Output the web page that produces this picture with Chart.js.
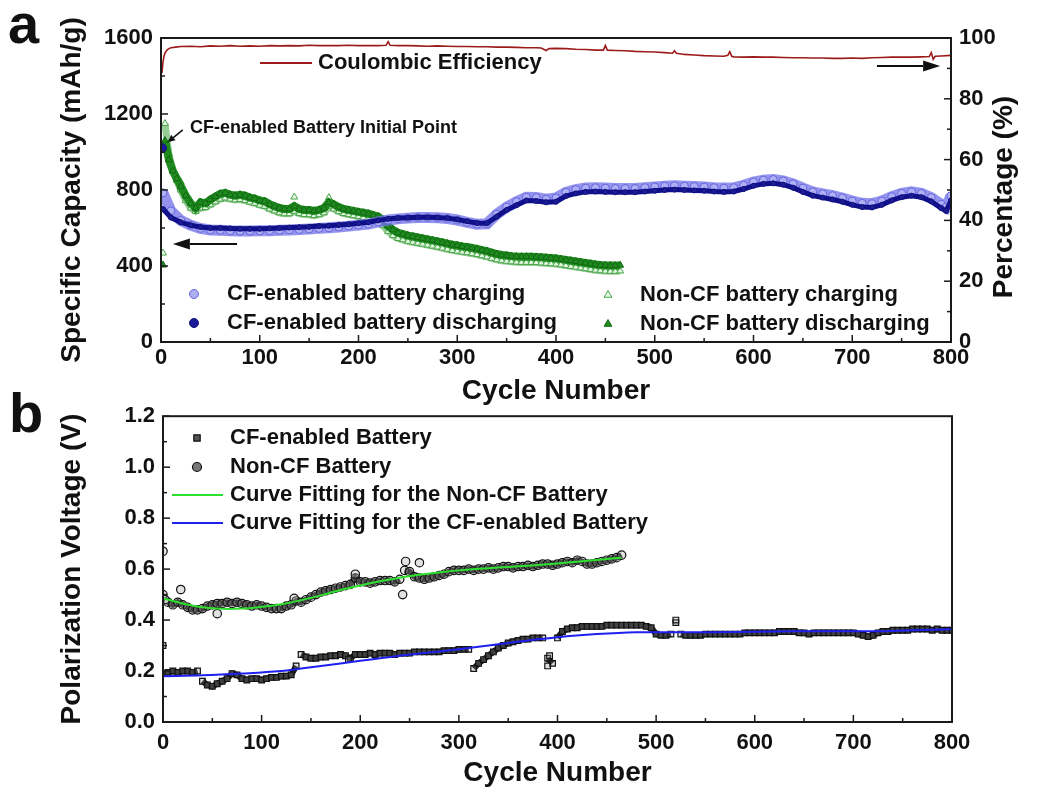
<!DOCTYPE html>
<html>
<head>
<meta charset="utf-8">
<title>Cycling performance</title>
<script src="https://cdn.jsdelivr.net/npm/chart.js@4.4.1/dist/chart.umd.min.js"></script>
<style>
  body { margin: 0; background: #fff; }
  #wrap { position: relative; width: 1037px; height: 788px; overflow: hidden; background: #fff; }
  canvas { position: absolute; left: 0; }
  #chartA { top: 0; }
  #chartB { top: 395px; }
  .tag { position: absolute; font: bold 56px "Liberation Sans", Arial, sans-serif; line-height: 1; color: #111; }
</style>
</head>
<body>
<div id="wrap">
  <canvas id="chartA" width="1037" height="410"></canvas>
  <canvas id="chartB" width="1037" height="393"></canvas>
  <div class="tag" style="left:8px; top:-4px;">a</div>
  <div class="tag" style="left:9px; top:385px;">b</div>
</div>
<script>
// ---- panel a : capacity / coulombic efficiency ----
const ceCycles = [1, 2, 3, 4, 6, 8, 10, 15, 20, 30, 40, 50, 60, 70, 80, 90, 100, 110, 120, 130, 140, 150, 160, 170, 180, 190, 200, 210, 220, 228, 230, 232, 240, 250, 260, 270, 280, 290, 300, 310, 320, 330, 340, 350, 360, 370, 380, 385, 390, 393, 400, 410, 420, 430, 440, 448, 450, 452, 460, 470, 480, 490, 500, 510, 518, 520, 522, 530, 540, 550, 560, 570, 574, 576, 578, 580, 590, 600, 610, 620, 630, 640, 650, 660, 670, 680, 690, 700, 710, 720, 730, 740, 750, 760, 770, 778, 780, 782, 784, 790, 800];
const ceValues = [88.5, 92, 94, 95, 96, 96.5, 96.8, 97, 97.2, 97.3, 97.1, 97.4, 97.3, 97.5, 97.3, 97.4, 97.3, 97.5, 97.4, 97.5, 97.4, 97.6, 97.5, 97.5, 97.5, 97.6, 97.5, 97.5, 97.5, 97.6, 98.8, 97.6, 97.5, 97.5, 97.4, 97.3, 97.4, 97.3, 97.2, 97.2, 97.1, 97.1, 97.0, 97.0, 96.9, 96.8, 96.8, 96.7, 95.9, 96.5, 96.6, 96.5, 96.3, 96.2, 96.0, 96.0, 97.5, 96.0, 95.9, 95.8, 95.6, 95.5, 95.4, 95.2, 95.0, 95.8, 95.0, 94.6, 94.4, 94.2, 94.1, 94.0, 94.3, 95.5, 94.0, 93.8, 93.7, 93.8, 93.7, 93.7, 93.6, 93.5, 93.5, 93.4, 93.4, 93.3, 93.3, 93.4, 93.3, 93.5, 93.6, 93.7, 93.7, 93.7, 93.8, 93.9, 95.2, 93.0, 94.0, 94.1, 94.3];

const cfFirstCycle = [1];
const cfFirstValue = [1020];
const cfCycles = [2, 10, 20, 30, 40, 50, 60, 70, 80, 90, 100, 110, 120, 130, 140, 150, 160, 170, 180, 190, 200, 210, 220, 230, 240, 250, 260, 270, 280, 290, 300, 310, 320, 330, 340, 350, 360, 370, 380, 390, 400, 410, 420, 430, 440, 450, 460, 470, 480, 490, 500, 510, 520, 530, 540, 550, 560, 570, 580, 590, 600, 610, 620, 630, 640, 650, 660, 670, 680, 690, 700, 710, 720, 730, 740, 750, 760, 770, 780, 790, 795, 800];
const cfDischarge = [700, 655, 630, 615, 605, 600, 600, 598, 596, 596, 596, 598, 600, 602, 604, 606, 610, 612, 616, 620, 625, 630, 640, 648, 652, 654, 656, 656, 655, 652, 645, 635, 626, 625, 660, 695, 720, 745, 742, 735, 738, 768, 782, 790, 792, 790, 788, 788, 788, 792, 796, 800, 802, 800, 798, 796, 792, 790, 792, 805, 822, 832, 835, 828, 812, 790, 770, 760, 750, 738, 722, 710, 708, 722, 745, 762, 770, 762, 740, 705, 690, 745];
const cfCharge = [785, 690, 640, 615, 598, 590, 588, 585, 584, 584, 585, 586, 588, 590, 592, 595, 598, 601, 605, 610, 615, 621, 632, 642, 648, 652, 655, 655, 654, 650, 642, 630, 620, 622, 672, 710, 738, 762, 760, 752, 758, 788, 802, 810, 812, 810, 808, 808, 808, 812, 816, 820, 822, 820, 818, 816, 812, 810, 812, 825, 842, 852, 855, 848, 832, 810, 790, 780, 770, 758, 742, 730, 728, 742, 765, 782, 790, 782, 760, 725, 710, 770];

const ncCycles = [4, 8, 12, 16, 20, 25, 30, 35, 40, 45, 50, 55, 60, 65, 70, 75, 80, 85, 90, 95, 100, 105, 110, 115, 120, 125, 130, 135, 140, 145, 150, 155, 160, 165, 170, 175, 180, 185, 190, 195, 200, 205, 210, 215, 220, 225, 230, 235, 240, 245, 250, 255, 260, 265, 270, 275, 280, 285, 290, 295, 300, 305, 310, 315, 320, 325, 330, 335, 340, 345, 350, 355, 360, 365, 370, 375, 380, 385, 390, 395, 400, 405, 410, 415, 420, 425, 430, 435, 440, 445, 450, 455, 460, 465];
const ncDischarge = [1060, 960, 900, 860, 820, 770, 730, 705, 735, 730, 750, 765, 780, 785, 775, 770, 775, 770, 760, 755, 745, 740, 725, 715, 705, 700, 700, 715, 700, 695, 695, 690, 695, 705, 735, 725, 710, 700, 695, 690, 685, 680, 675, 668, 660, 640, 610, 590, 575, 568, 560, 555, 550, 545, 540, 535, 530, 524, 518, 512, 508, 503, 500, 495, 490, 484, 478, 470, 463, 458, 455, 452, 450, 449, 449, 449, 448, 446, 444, 442, 440, 436, 432, 428, 424, 420, 416, 412, 408, 405, 403, 402, 402, 404];
const ncCharge = [1150, 990, 905, 850, 800, 745, 705, 688, 705, 708, 722, 738, 752, 758, 752, 748, 750, 745, 736, 730, 720, 714, 700, 690, 680, 675, 675, 688, 676, 671, 670, 665, 670, 680, 712, 700, 686, 676, 670, 665, 660, 655, 650, 643, 635, 612, 582, 560, 545, 538, 530, 525, 520, 515, 510, 505, 500, 494, 488, 482, 478, 473, 470, 465, 460, 454, 448, 440, 433, 428, 425, 422, 420, 419, 419, 419, 418, 416, 414, 412, 410, 406, 402, 398, 394, 390, 386, 382, 378, 375, 373, 372, 372, 374];
// stray single cycles off the main band
const ncChargeOddCycles = [2, 20, 135, 170];
const ncChargeOdd = [468, 842, 763, 760];
const ncDischargeOddCycles = [2, 20];
const ncDischargeOdd = [405, 812];

// ---- panel b : polarization voltage ----
const cfPolCycles = [0, 5, 10, 15, 20, 25, 30, 35, 40, 45, 50, 55, 60, 65, 70, 75, 80, 85, 90, 95, 100, 105, 110, 115, 120, 125, 130, 135, 140, 145, 150, 155, 160, 165, 170, 175, 180, 185, 190, 195, 200, 205, 210, 215, 220, 225, 230, 235, 240, 245, 250, 255, 260, 265, 270, 275, 280, 285, 290, 295, 300, 305, 310, 315, 320, 325, 330, 335, 340, 345, 350, 355, 360, 365, 370, 375, 380, 385, 390, 395, 400, 405, 410, 415, 420, 425, 430, 435, 440, 445, 450, 455, 460, 465, 470, 475, 480, 485, 490, 495, 500, 505, 510, 515, 520, 525, 530, 535, 540, 545, 550, 555, 560, 565, 570, 575, 580, 585, 590, 595, 600, 605, 610, 615, 620, 625, 630, 635, 640, 645, 650, 655, 660, 665, 670, 675, 680, 685, 690, 695, 700, 705, 710, 715, 720, 725, 730, 735, 740, 745, 750, 755, 760, 765, 770, 775, 780, 785, 790, 795, 800];
const cfPol = [0.19, 0.195, 0.20, 0.195, 0.20, 0.20, 0.195, 0.20, 0.16, 0.145, 0.14, 0.15, 0.16, 0.17, 0.19, 0.185, 0.17, 0.165, 0.17, 0.17, 0.165, 0.17, 0.175, 0.175, 0.18, 0.18, 0.185, 0.22, 0.265, 0.255, 0.25, 0.25, 0.255, 0.255, 0.26, 0.26, 0.265, 0.26, 0.25, 0.265, 0.265, 0.265, 0.27, 0.265, 0.27, 0.27, 0.27, 0.265, 0.27, 0.27, 0.27, 0.275, 0.275, 0.275, 0.275, 0.275, 0.275, 0.28, 0.28, 0.28, 0.285, 0.285, 0.285, 0.21, 0.23, 0.245, 0.26, 0.275, 0.29, 0.30, 0.31, 0.315, 0.32, 0.325, 0.325, 0.33, 0.33, 0.33, 0.25, 0.23, 0.33, 0.355, 0.365, 0.37, 0.37, 0.375, 0.375, 0.375, 0.375, 0.375, 0.38, 0.38, 0.38, 0.38, 0.38, 0.38, 0.38, 0.38, 0.375, 0.37, 0.345, 0.34, 0.34, 0.345, 0.39, 0.345, 0.34, 0.34, 0.34, 0.34, 0.345, 0.345, 0.345, 0.345, 0.345, 0.345, 0.345, 0.345, 0.35, 0.35, 0.35, 0.35, 0.35, 0.35, 0.35, 0.355, 0.355, 0.355, 0.355, 0.35, 0.35, 0.345, 0.35, 0.35, 0.35, 0.35, 0.35, 0.35, 0.35, 0.35, 0.35, 0.345, 0.34, 0.335, 0.34, 0.35, 0.355, 0.355, 0.36, 0.36, 0.36, 0.36, 0.365, 0.365, 0.365, 0.365, 0.36, 0.365, 0.36, 0.36, 0.36];
const cfPolOddCycles = [0, 188, 390, 392, 520];
const cfPolOdd = [0.30, 0.245, 0.22, 0.26, 0.40];

const ncPolCycles = [0, 5, 10, 15, 20, 25, 30, 35, 40, 45, 50, 55, 60, 65, 70, 75, 80, 85, 90, 95, 100, 105, 110, 115, 120, 125, 130, 135, 140, 145, 150, 155, 160, 165, 170, 175, 180, 185, 190, 195, 200, 205, 210, 215, 220, 225, 230, 235, 240, 245, 250, 255, 260, 265, 270, 275, 280, 285, 290, 295, 300, 305, 310, 315, 320, 325, 330, 335, 340, 345, 350, 355, 360, 365, 370, 375, 380, 385, 390, 395, 400, 405, 410, 415, 420, 425, 430, 435, 440, 445, 450, 455, 460, 465];
const ncPol = [0.50, 0.47, 0.46, 0.47, 0.46, 0.45, 0.44, 0.44, 0.445, 0.455, 0.46, 0.465, 0.465, 0.47, 0.465, 0.47, 0.465, 0.46, 0.455, 0.46, 0.455, 0.45, 0.445, 0.445, 0.445, 0.455, 0.46, 0.475, 0.47, 0.48, 0.49, 0.50, 0.51, 0.515, 0.52, 0.525, 0.53, 0.535, 0.54, 0.565, 0.55, 0.55, 0.545, 0.55, 0.555, 0.555, 0.555, 0.55, 0.56, 0.595, 0.59, 0.57, 0.565, 0.56, 0.565, 0.57, 0.575, 0.58, 0.59, 0.595, 0.595, 0.595, 0.60, 0.595, 0.60, 0.60, 0.605, 0.60, 0.605, 0.61, 0.61, 0.605, 0.61, 0.61, 0.615, 0.61, 0.615, 0.62, 0.62, 0.615, 0.62, 0.625, 0.63, 0.625, 0.635, 0.63, 0.62, 0.62, 0.625, 0.63, 0.635, 0.64, 0.645, 0.655];
const ncPolOddCycles = [0, 2, 18, 55, 133, 195, 243, 246, 260];
const ncPolOdd = [0.67, 0.48, 0.52, 0.425, 0.485, 0.58, 0.50, 0.63, 0.625];

const ncFitCycles = [0, 20, 40, 60, 80, 100, 120, 140, 160, 180, 200, 220, 240, 260, 280, 300, 320, 340, 360, 380, 400, 420, 440, 465];
const ncFit = [0.485, 0.465, 0.45, 0.444, 0.445, 0.452, 0.462, 0.478, 0.497, 0.518, 0.536, 0.552, 0.566, 0.578, 0.587, 0.595, 0.601, 0.606, 0.611, 0.616, 0.622, 0.629, 0.636, 0.645];
const cfFitCycles = [0, 40, 80, 120, 140, 160, 200, 240, 280, 320, 360, 400, 440, 480, 520, 560, 600, 640, 680, 720, 760, 800];
const cfFit = [0.18, 0.183, 0.19, 0.2, 0.21, 0.22, 0.24, 0.26, 0.277, 0.295, 0.315, 0.333, 0.345, 0.352, 0.352, 0.352, 0.354, 0.356, 0.356, 0.356, 0.36, 0.364];

// ---- shared look ----
const family = "'Liberation Sans', Arial, Helvetica, sans-serif";
Chart.defaults.font.family = family;
Chart.defaults.color = '#111';
const tickFont = { size: 22, weight: 'bold' };
const titleFont = { size: 28, weight: 'bold', lineHeight: 1 };

function pairs(xs, ys) {
  return xs.map((x, i) => ({ x: x, y: ys[i] }));
}

// cut a measured series into pieces wherever the value jumps,
// so the dense band is not joined across the jump
function runs(points, limit) {
  const out = [[points[0]]];
  for (let i = 1; i < points.length; i++) {
    if (Math.abs(points[i].y - points[i - 1].y) > limit) out.push([]);
    out[out.length - 1].push(points[i]);
  }
  return out;
}

function bandPieces(points, limit, color, order) {
  return runs(points, limit).map(run => ({
    label: '', data: run, showLine: true, borderColor: color, borderWidth: 6, pointRadius: 0, order: order
  }));
}

// box around the plot with inward major/minor ticks
const frameTicks = {
  id: 'frameTicks',
  afterDatasetsDraw(chart, args, opts) {
    const ctx = chart.ctx, a = chart.chartArea;
    ctx.save();
    ctx.strokeStyle = '#1a1a1a';
    ctx.lineWidth = 2;
    ctx.strokeRect(a.left, a.top, a.right - a.left, a.bottom - a.top);
    ctx.lineWidth = 1.5;
    opts.marks.forEach(m => {
      const s = chart.scales[m.axis];
      const n = Math.round((s.max - s.min) / m.minor);
      for (let i = 0; i <= n; i++) {
        const p = s.getPixelForValue(s.min + i * m.minor);
        const len = i % 2 === 0 ? 7 : 4;
        ctx.beginPath();
        if (m.side === 'left') { ctx.moveTo(a.left, p); ctx.lineTo(a.left + len, p); }
        else if (m.side === 'right') { ctx.moveTo(a.right, p); ctx.lineTo(a.right - len, p); }
        else { ctx.moveTo(p, a.bottom); ctx.lineTo(p, a.bottom - len); }
        ctx.stroke();
      }
    });
    ctx.restore();
  }
};

// legend entries placed inside the plot
const keyBox = {
  id: 'keyBox',
  afterDraw(chart, args, opts) {
    const ctx = chart.ctx;
    ctx.save();
    ctx.font = 'bold ' + opts.size + 'px ' + family;
    ctx.textBaseline = 'middle';
    ctx.textAlign = 'left';
    opts.items.forEach(it => {
      const ds = chart.data.datasets[it.index];
      if (it.line) {
        ctx.strokeStyle = ds.borderColor;
        ctx.lineWidth = 2;
        ctx.beginPath();
        ctx.moveTo(it.line[0], it.y);
        ctx.lineTo(it.line[1], it.y);
        ctx.stroke();
      } else {
        ctx.fillStyle = typeof it.swatch === 'string' ? it.swatch : ds.pointBackgroundColor;
        ctx.strokeStyle = ds.pointBorderColor;
        ctx.lineWidth = ds.pointBorderWidth;
        Chart.helpers.drawPoint(ctx, { pointStyle: ds.pointStyle, radius: 4.5, borderWidth: ds.pointBorderWidth, rotation: 0 }, it.mark, it.y);
      }
      ctx.fillStyle = '#111';
      ctx.fillText(ds.label, it.text, it.y);
    });
    ctx.restore();
  }
};

// arrows, notes and the right-hand axis title
const notes = {
  id: 'notes',
  afterDraw(chart, args, opts) {
    const ctx = chart.ctx, xs = chart.scales.x;
    ctx.save();
    ctx.fillStyle = '#111';
    ctx.strokeStyle = '#111';
    (opts.arrows || []).forEach(ar => {
      const ys = chart.scales[ar.axis];
      const x0 = xs.getPixelForValue(ar.from[0]), y0 = ys.getPixelForValue(ar.from[1]);
      const x1 = xs.getPixelForValue(ar.to[0]), y1 = ys.getPixelForValue(ar.to[1]);
      const ang = Math.atan2(y1 - y0, x1 - x0);
      const c = Math.cos(ang), s = Math.sin(ang);
      const bx = x1 - c * ar.head, by = y1 - s * ar.head;
      ctx.lineWidth = ar.width;
      ctx.beginPath();
      ctx.moveTo(x0, y0);
      ctx.lineTo(bx, by);
      ctx.stroke();
      ctx.beginPath();
      ctx.moveTo(x1, y1);
      ctx.lineTo(bx + s * ar.half, by - c * ar.half);
      ctx.lineTo(bx - s * ar.half, by + c * ar.half);
      ctx.closePath();
      ctx.fill();
    });
    (opts.texts || []).forEach(t => {
      ctx.font = 'bold ' + t.size + 'px ' + family;
      ctx.textBaseline = 'middle';
      ctx.textAlign = 'left';
      ctx.fillText(t.text, xs.getPixelForValue(t.at[0]), chart.scales[t.axis].getPixelForValue(t.at[1]));
    });
    if (opts.sideTitle) {
      const st = opts.sideTitle;
      ctx.font = 'bold 28px ' + family;
      ctx.textAlign = 'center';
      ctx.textBaseline = 'middle';
      ctx.translate(st.x, st.y);
      ctx.rotate(-Math.PI / 2);
      ctx.fillText(st.text, 0, 0);
    }
    ctx.restore();
  }
};

function xAxis(padBottom, tickPad, height) {
  return {
    type: 'linear', min: 0, max: 800,
    ticks: { stepSize: 100, font: tickFont, padding: tickPad, maxRotation: 0, autoSkip: false },
    grid: { display: false, drawTicks: false },
    border: { display: false },
    title: { display: true, text: 'Cycle Number', font: titleFont, padding: { top: 0, bottom: padBottom } },
    afterFit: s => { s.height = height; }
  };
}

// ---- chart a ----
new Chart(document.getElementById('chartA'), {
  type: 'scatter',
  data: {
    datasets: [
      { label: 'Coulombic Efficiency', data: pairs(ceCycles, ceValues), yAxisID: 'y1', showLine: true,
        borderColor: '#9c1c1c', borderWidth: 1.6, pointRadius: 0, order: 0 },
      { label: 'CF-enabled Battery Initial Point', data: pairs(cfFirstCycle, cfFirstValue), yAxisID: 'y',
        pointStyle: 'circle', pointRadius: 4.5, pointBackgroundColor: '#1b1b9a', pointBorderColor: '#14147a', pointBorderWidth: 1, order: 1 },
      { label: 'CF-enabled battery discharging', data: pairs(cfCycles, cfDischarge), yAxisID: 'y', showLine: true,
        borderColor: '#10108c', borderWidth: 5, pointStyle: 'circle', pointRadius: 2.5,
        pointBackgroundColor: '#1c1c98', pointBorderColor: '#10107a', pointBorderWidth: 1, order: 2 },
      { label: 'CF-enabled battery charging', data: pairs(cfCycles, cfCharge), yAxisID: 'y', showLine: true,
        borderColor: 'rgba(112,112,232,0.75)', borderWidth: 11, pointStyle: 'circle', pointRadius: 4,
        pointBackgroundColor: 'rgba(175,175,245,1)', pointBorderColor: 'rgba(100,100,220,1)', pointBorderWidth: 1, order: 3 },
      { label: 'Non-CF battery discharging', data: pairs(ncCycles, ncDischarge), yAxisID: 'y', showLine: true,
        borderColor: '#1d8a1d', borderWidth: 8, pointStyle: 'triangle', pointRadius: 4,
        pointBackgroundColor: '#1f8c1f', pointBorderColor: '#146814', pointBorderWidth: 1, order: 4 },
      { label: 'Non-CF battery charging', data: pairs(ncCycles, ncCharge), yAxisID: 'y', showLine: true,
        borderColor: 'rgba(80,170,80,0.6)', borderWidth: 7, pointStyle: 'triangle', pointRadius: 4,
        pointBackgroundColor: 'rgba(230,248,230,0.95)', pointBorderColor: '#48a548', pointBorderWidth: 1, order: 5 },
      { label: 'Non-CF battery discharging (stray)', data: pairs(ncDischargeOddCycles, ncDischargeOdd), yAxisID: 'y',
        pointStyle: 'triangle', pointRadius: 4, pointBackgroundColor: '#1f8c1f', pointBorderColor: '#146814', pointBorderWidth: 1, order: 6 },
      { label: 'Non-CF battery charging (stray)', data: pairs(ncChargeOddCycles, ncChargeOdd), yAxisID: 'y',
        pointStyle: 'triangle', pointRadius: 4, pointBackgroundColor: 'rgba(230,248,230,0.95)', pointBorderColor: '#48a548', pointBorderWidth: 1, order: 7 }
    ]
  },
  options: {
    responsive: false,
    animation: false,
    events: [],
    clip: 0,
    layout: { padding: { top: 38, right: 0, left: 0, bottom: 0 } },
    scales: {
      x: xAxis(5, 3, 68),
      y: {
        position: 'left', min: 0, max: 1600,
        ticks: { stepSize: 400, font: tickFont, padding: 8, callback: v => String(v) },
        grid: { display: false, drawTicks: false },
        border: { display: false },
        title: { display: true, text: 'Specific Capacity (mAh/g)', font: titleFont, padding: { top: 58, bottom: 0 } },
        afterFit: s => { s.width = 161; }
      },
      y1: {
        position: 'right', min: 0, max: 100,
        ticks: { stepSize: 20, font: tickFont, padding: 8 },
        grid: { display: false, drawTicks: false },
        border: { display: false },
        afterFit: s => { s.width = 86; }
      }
    },
    plugins: {
      legend: { display: false },
      tooltip: { enabled: false },
      frameTicks: { marks: [
        { axis: 'y', side: 'left', minor: 200 },
        { axis: 'y1', side: 'right', minor: 10 },
        { axis: 'x', side: 'bottom', minor: 50 }
      ] },
      keyBox: { size: 22, items: [
        { index: 0, line: [260, 312], text: 318, y: 63 },
        { index: 3, mark: 194, text: 227, y: 294 },
        { index: 2, mark: 194, text: 227, y: 323 },
        { index: 5, mark: 608, text: 640, y: 295 },
        { index: 4, mark: 608, text: 640, y: 324 }
      ] },
      notes: {
        arrows: [
          { axis: 'y', from: [77, 516], to: [12, 516], width: 2, head: 17, half: 5.5 },
          { axis: 'y1', from: [725, 90.8], to: [789, 90.8], width: 2, head: 17, half: 5.5 },
          { axis: 'y', from: [22, 1116], to: [7, 1053], width: 1.6, head: 7, half: 3.5 }
        ],
        texts: [ { text: 'CF-enabled Battery Initial Point', at: [29.4, 1126], axis: 'y', size: 18 } ],
        sideTitle: { text: 'Percentage (%)', x: 1004, y: 197 }
      }
    }
  },
  plugins: [frameTicks, keyBox, notes]
});

// ---- chart b ----
const cfPolPoints = pairs(cfPolCycles, cfPol);
const ncPolPoints = pairs(ncPolCycles, ncPol);

new Chart(document.getElementById('chartB'), {
  type: 'scatter',
  data: {
    datasets: [
      { label: 'Curve Fitting for the Non-CF Battery', data: pairs(ncFitCycles, ncFit), showLine: true,
        borderColor: '#2ee02e', borderWidth: 2, pointRadius: 0, tension: 0.4, order: 0 },
      { label: 'Curve Fitting for the CF-enabled Battery', data: pairs(cfFitCycles, cfFit), showLine: true,
        borderColor: '#1f1ff0', borderWidth: 2, pointRadius: 0, tension: 0.4, order: 1 },
      { label: 'CF-enabled Battery', data: cfPolPoints.concat(pairs(cfPolOddCycles, cfPolOdd)), showLine: false,
        pointStyle: 'rect', pointRadius: 4, pointBackgroundColor: 'rgba(150,150,150,0.3)', pointBorderColor: '#111', pointBorderWidth: 1.2, order: 2 },
      { label: 'Non-CF Battery', data: ncPolPoints.concat(pairs(ncPolOddCycles, ncPolOdd)), showLine: false,
        pointStyle: 'circle', pointRadius: 4.2, pointBackgroundColor: 'rgba(160,160,160,0.3)', pointBorderColor: '#111', pointBorderWidth: 1.2, order: 3 }
    ].concat(bandPieces(cfPolPoints, 0.04, '#1e1e1e', 10), bandPieces(ncPolPoints, 0.03, '#2a2a2a', 11))
  },
  options: {
    responsive: false,
    animation: false,
    events: [],
    layout: { padding: { top: 21, right: 85, left: 0, bottom: 0 } },
    scales: {
      x: xAxis(1, 8, 66),
      y: {
        position: 'left', min: 0, max: 1.2,
        ticks: { stepSize: 0.2, font: tickFont, padding: 8, callback: v => v.toFixed(1) },
        grid: { display: false, drawTicks: false },
        border: { display: false },
        title: { display: true, text: 'Polarization Voltage (V)', font: titleFont, padding: { top: 58, bottom: 0 } },
        afterFit: s => { s.width = 163; }
      }
    },
    plugins: {
      legend: { display: false },
      tooltip: { enabled: false },
      frameTicks: { marks: [
        { axis: 'y', side: 'left', minor: 0.1 },
        { axis: 'x', side: 'bottom', minor: 50 }
      ] },
      keyBox: { size: 22, items: [
        { index: 2, mark: 197, text: 230, y: 43, swatch: '#555' },
        { index: 3, mark: 197, text: 230, y: 72, swatch: '#777' },
        { index: 0, line: [172, 223], text: 230, y: 100 },
        { index: 1, line: [172, 223], text: 230, y: 128 }
      ] },
      notes: {}
    }
  },
  plugins: [frameTicks, keyBox, notes]
});
</script>
</body>
</html>
